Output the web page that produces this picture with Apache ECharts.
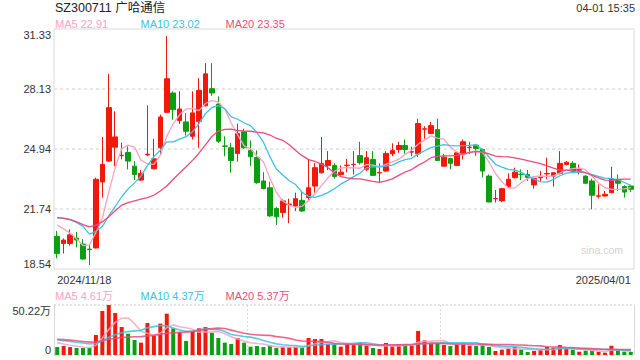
<!DOCTYPE html>
<html><head><meta charset="utf-8">
<script src="https://cdn.jsdelivr.net/npm/echarts@6/dist/echarts.min.js"></script>
<style>html,body{margin:0;padding:0;background:#fff}#c{width:640px;height:360px}</style>
</head><body><div id="c"></div>
<script>
const dates = ['2024/11/18','2024/11/19','2024/11/20','2024/11/21','2024/11/22','2024/11/25','2024/11/26','2024/11/27','2024/11/28','2024/11/29',
'2024/12/02','2024/12/03','2024/12/04','2024/12/05','2024/12/06','2024/12/09','2024/12/10','2024/12/11','2024/12/12','2024/12/13','2024/12/16','2024/12/17','2024/12/18','2024/12/19','2024/12/20','2024/12/23','2024/12/24','2024/12/25','2024/12/26','2024/12/27','2024/12/30','2024/12/31',
'2025/01/02','2025/01/03','2025/01/06','2025/01/07','2025/01/08','2025/01/09','2025/01/10','2025/01/13','2025/01/14','2025/01/15','2025/01/16','2025/01/17','2025/01/20','2025/01/21','2025/01/22','2025/01/23','2025/01/24','2025/01/27',
'2025/02/05','2025/02/06','2025/02/07','2025/02/10','2025/02/11','2025/02/12','2025/02/13','2025/02/14','2025/02/17','2025/02/18','2025/02/19','2025/02/20','2025/02/21','2025/02/24','2025/02/25','2025/02/26','2025/02/27','2025/02/28',
'2025/03/03','2025/03/04','2025/03/05','2025/03/06','2025/03/07','2025/03/10','2025/03/11','2025/03/12','2025/03/13','2025/03/14','2025/03/17','2025/03/18','2025/03/19','2025/03/20','2025/03/21','2025/03/24','2025/03/25','2025/03/26','2025/03/27','2025/03/28','2025/03/31',
'2025/04/01'];

const open = [20.28,19.90,19.90,20.19,19.87,19.60,19.66,23.18,24.29,25.03,
24.58,24.75,24.02,23.28,24.62,23.88,25.00,26.89,27.92,26.45,
26.38,25.61,26.41,27.24,28.15,27.33,25.10,25.00,24.70,25.85,
24.86,24.48,23.23,22.87,21.76,21.55,21.98,21.90,22.20,22.35,
22.96,23.67,24.06,24.06,23.57,24.05,24.10,24.59,23.85,24.38,
23.66,23.76,24.68,24.91,25.12,24.77,24.68,25.99,25.76,25.97,
24.02,24.43,24.06,24.68,25.01,25.14,24.91,23.49,22.28,22.17,
22.93,23.41,23.59,23.58,23.02,23.40,23.61,23.49,23.64,24.11,
24.17,23.81,23.49,23.23,22.42,22.43,22.61,23.28,22.93,22.96];
const close = [19.37,20.08,20.36,20.08,19.07,19.57,23.32,24.11,27.14,25.58,
24.60,24.29,23.58,23.64,24.66,24.41,26.64,28.68,27.03,27.07,
25.88,26.86,28.06,28.94,27.92,25.35,25.08,24.32,25.76,25.00,
24.52,23.14,22.82,21.37,21.32,22.17,22.00,22.29,21.63,22.87,
23.94,24.17,24.32,23.46,23.70,24.07,24.12,24.20,24.47,23.53,
23.68,24.70,24.86,25.12,24.91,24.79,26.29,26.01,26.18,24.32,
24.50,24.17,24.73,25.32,25.03,24.96,23.76,22.11,22.30,22.82,
23.32,23.70,23.57,23.41,23.37,23.42,23.63,23.67,24.17,24.23,
23.76,23.83,23.11,22.47,22.44,22.52,23.35,23.11,22.64,22.79];
const low = [19.11,19.37,19.78,19.69,19.04,18.75,19.64,22.34,24.25,24.02,
24.38,23.85,23.28,23.23,24.55,23.85,24.64,26.85,26.50,26.27,
25.65,25.44,25.00,27.20,27.77,25.26,24.55,23.67,24.26,24.95,
24.02,23.08,22.79,21.32,20.88,21.28,20.98,21.63,21.58,22.22,
22.61,23.63,23.81,23.36,23.51,23.70,23.58,24.11,23.76,23.50,
23.14,23.70,24.55,24.73,24.68,24.55,24.50,25.48,25.74,24.29,
24.00,23.85,24.02,24.38,24.68,24.57,23.41,22.09,22.08,22.11,
22.87,23.36,23.28,23.23,22.82,23.23,23.32,22.93,23.58,24.06,
23.70,23.58,23.10,21.72,22.29,22.40,22.58,22.70,22.35,22.64];
const high = [20.57,20.17,20.65,20.52,20.13,19.83,23.41,25.58,28.94,26.94,
25.27,25.07,24.29,23.82,27.26,25.48,26.77,30.96,28.01,28.01,
26.85,28.01,28.71,29.51,29.51,27.74,25.61,25.26,26.29,26.02,
25.39,24.86,23.70,23.19,21.85,22.26,22.29,22.61,22.70,24.41,
24.20,25.58,24.82,24.17,24.06,24.41,24.82,25.32,24.82,24.82,
24.17,24.82,25.24,25.32,25.44,25.05,26.55,26.15,26.38,26.55,
24.68,24.47,24.78,25.44,25.30,25.21,24.96,23.58,22.75,22.87,
23.64,23.94,23.85,23.82,23.41,23.76,24.47,23.70,24.82,24.29,
24.29,24.11,23.53,23.35,23.05,22.70,23.99,23.58,23.00,23.00];

const ma5 = [20.88,20.68,20.45,20.15,19.79,19.83,20.48,21.23,22.64,23.94,
24.95,25.14,25.04,24.34,24.15,24.12,24.59,25.61,26.28,26.77,
27.06,27.10,26.98,27.36,27.53,27.43,27.07,26.32,25.69,25.10,
24.94,24.55,24.25,23.37,22.63,22.16,21.94,21.83,21.88,22.19,
22.55,22.98,23.39,23.75,23.92,23.94,23.93,23.91,24.11,24.08,
24.00,24.12,24.25,24.38,24.65,24.88,25.19,25.42,25.64,25.52,
25.46,25.04,24.78,24.61,24.75,24.84,24.76,24.24,23.63,23.19,
22.86,22.85,23.14,23.36,23.47,23.49,23.48,23.50,23.65,23.82,
23.89,23.93,23.82,23.48,23.12,22.87,22.78,22.78,22.81,22.88];
const ma10 = [21.28,21.23,21.16,21.02,20.81,20.40,20.55,20.80,21.38,21.87,
22.39,22.81,23.13,23.49,24.05,24.53,24.87,25.32,25.31,25.46,
25.59,25.85,26.29,26.82,27.15,27.24,27.09,26.65,26.52,26.32,
26.18,25.81,25.29,24.53,23.87,23.55,23.24,23.04,22.63,22.41,
22.36,22.46,22.61,22.82,23.06,23.25,23.46,23.65,23.93,24.00,
23.97,24.03,24.08,24.25,24.37,24.44,24.66,24.84,25.01,25.09,
25.17,25.12,25.10,25.12,25.13,25.15,24.90,24.51,24.12,23.97,
23.85,23.81,23.69,23.50,23.33,23.18,23.17,23.32,23.51,23.65,
23.69,23.71,23.66,23.57,23.47,23.38,23.36,23.30,23.15,23.00];
const ma20 = [21.28,21.25,21.19,21.05,20.91,20.79,20.88,21.05,21.32,21.64,
21.94,22.08,22.17,22.26,22.34,22.47,22.70,22.96,23.32,23.66,
23.99,24.33,24.71,25.16,25.60,25.89,25.98,25.99,25.92,25.89,
25.88,25.83,25.79,25.68,25.51,25.40,25.16,24.85,24.58,24.37,
24.27,24.13,23.95,23.67,23.46,23.40,23.35,23.34,23.28,23.21,
23.16,23.24,23.34,23.53,23.71,23.84,24.06,24.24,24.47,24.54,
24.57,24.57,24.59,24.68,24.75,24.79,24.78,24.67,24.56,24.53,
24.51,24.46,24.40,24.31,24.23,24.16,24.03,23.91,23.81,23.81,
23.77,23.76,23.67,23.53,23.40,23.28,23.26,23.31,23.33,23.33];

// volume in 万
const volume = [8.0,9.0,8.0,7.0,7.0,7.0,20.1,44.2,50.22,42.2,
28.1,21.4,15.1,12.4,32.1,19.4,31.5,41.5,26.8,22.8,
14.1,24.1,26.8,28.1,22.4,17.1,12.4,11.0,17.1,12.4,
8.4,9.0,8.0,9.4,7.0,7.7,7.7,8.0,7.4,17.1,
16.1,16.1,11.0,11.0,8.4,11.0,11.0,12.4,9.4,7.0,
6.0,12.1,9.4,11.0,10.0,9.0,24.1,14.7,11.7,12.4,
10.0,9.0,11.0,11.7,9.4,9.0,10.0,8.0,4.0,5.4,
6.4,8.0,5.7,3.0,4.0,5.0,8.4,7.4,10.0,6.0,
5.3,3.3,4.3,4.5,3.3,2.3,9.3,5.2,3.3,3.2];
const vma5 = [12.4,11.0,9.8,8.8,7.80,7.60,9.82,17.06,25.70,32.74,
36.96,37.22,31.40,23.84,21.82,20.08,22.10,27.38,30.26,28.40,
27.34,25.86,22.92,23.18,23.10,23.70,21.36,18.20,16.00,14.00,
12.26,11.58,10.98,9.44,8.36,8.22,7.96,7.96,7.56,9.58,
11.26,12.94,13.54,14.26,12.52,11.50,10.48,10.76,10.44,10.16,
9.16,9.38,8.78,9.10,9.70,10.30,12.70,13.76,13.90,14.38,
14.58,11.56,10.82,10.82,10.22,10.02,10.22,9.62,8.08,7.28,
6.76,6.36,5.90,5.70,5.42,5.14,5.22,5.56,6.96,7.36,
7.42,6.40,5.78,4.68,4.14,3.54,4.74,4.92,4.68,4.66];
const vma10 = [15.0,14.3,13.6,12.8,12.0,11.0,11.5,14.0,17.8,20.27,
22.28,23.52,24.23,24.77,27.28,28.52,29.66,29.39,27.05,25.11,
23.71,23.98,25.15,26.72,25.75,25.52,23.61,20.56,19.59,18.55,
17.98,16.47,14.59,12.72,11.18,10.24,9.77,9.47,8.50,8.97,
9.74,10.45,10.75,10.91,11.05,11.38,11.71,12.15,12.35,11.34,
10.33,9.93,9.77,9.77,9.93,9.73,11.04,11.27,11.50,12.04,
12.44,12.13,12.29,12.36,12.30,12.30,10.89,10.22,9.45,8.75,
8.39,8.29,7.76,6.89,6.35,5.95,5.79,5.73,6.33,6.39,
6.28,5.81,5.67,5.82,5.75,5.48,5.57,5.35,4.68,4.40];
const vma20 = [15.8,15.4,14.9,14.3,13.6,12.9,13.2,14.3,15.8,16.8,
17.5,18.0,18.3,18.5,19.2,19.7,20.6,21.8,22.3,22.69,
23.00,23.75,24.69,25.75,26.52,27.02,26.64,24.98,23.32,21.83,
20.85,20.23,19.87,19.72,18.47,17.88,16.69,15.02,14.05,13.76,
13.86,13.46,12.67,11.82,11.12,10.81,10.74,10.81,10.43,10.16,
10.04,10.19,10.26,10.34,10.49,10.56,11.38,11.71,11.93,11.69,
11.39,11.03,11.03,11.07,11.12,11.02,10.97,10.75,10.48,10.40,
10.42,10.21,10.03,9.63,9.33,9.13,8.34,7.98,7.89,7.57,
7.34,7.05,6.72,6.36,6.05,5.72,5.68,5.54,5.51,5.40];

const priceTicks = [18.54, 21.74, 24.94, 28.13, 31.33];
const priceInner = [21.74, 24.94, 28.13];
const volTicks = [0, 50.22];

const titleText = 'SZ300711 广哈通信';
const timeText = '04-01 15:35';
const maLegend = ['MA5 22.91', 'MA10 23.02', 'MA20 23.35'];
const volLegend = ['MA5 4.61万', 'MA10 4.37万', 'MA20 5.37万'];

const UP = '#f2180c', DOWN = '#0c9e12';
const C5 = '#f7a3bf', C10 = '#3cc1e3', C20 = '#e94c7c';
const FONT = 'Arial, "Liberation Sans", "Noto Sans CJK SC", sans-serif';

const candleData = dates.map((d, i) => [open[i], close[i], low[i], high[i]]);
const volData = volume.map((v, i) => ({ value: v, itemStyle: { color: close[i] >= open[i] ? UP : DOWN } }));

function txt(text, x, y, color, size, align) {
  return { type: 'text', x: x, y: y, silent: true,
    style: { text: text, fill: color, font: size + 'px ' + FONT, align: align || 'left', verticalAlign: 'middle',
      textAlign: align || 'left', textVerticalAlign: 'middle' } };
}

const chart = echarts.init(document.getElementById('c'), null, { renderer: 'svg' });
const lineS = (name, data, color, xi, yi, w, op) => ({
  name: name, type: 'line', data: data, xAxisIndex: xi, yAxisIndex: yi, showSymbol: false, symbol: 'none',
  silent: true, smooth: false, z: 5, lineStyle: { color: color, width: w, opacity: op }, itemStyle: { color: color }
});

chart.setOption({
  animation: false,
  backgroundColor: '#fff',
  textStyle: { fontFamily: FONT },
  grid: [
    { left: 54, right: 6, top: 29, height: 240, show: true, borderColor: '#d9d9d9', borderWidth: 1,
      backgroundColor: 'transparent', outerBoundsMode: 'none' },
    { left: 54, right: 6, top: 305, height: 50, show: false, outerBoundsMode: 'none' }
  ],
  xAxis: [
    { type: 'category', gridIndex: 0, data: dates, boundaryGap: true,
      axisLine: { show: false }, axisTick: { show: false }, splitLine: { show: false },
      axisLabel: { interval: (i) => i === 0 || i === dates.length - 1, color: '#333', fontSize: 11, margin: 5,
        fontFamily: FONT, alignMinLabel: 'left', alignMaxLabel: 'right' } },
    { type: 'category', gridIndex: 1, data: dates, boundaryGap: true,
      axisLine: { show: false }, axisTick: { show: false }, axisLabel: { show: false },
      splitLine: { show: true, interval: (i) => i === 30 || i === 60, lineStyle: { color: '#d9d9d9', type: [2, 2], width: 1 } } }
  ],
  yAxis: [
    { type: 'value', gridIndex: 0, min: priceTicks[0], max: priceTicks[priceTicks.length - 1], scale: true,
      axisLine: { show: false }, axisTick: { show: false, customValues: priceInner },
      splitLine: { show: true, lineStyle: { color: '#e6e6e6', type: [3, 3], width: 2 } },
      axisLabel: { customValues: priceTicks, color: '#333', fontSize: 11, margin: 3, fontFamily: FONT,
        verticalAlignMinLabel: 'bottom', verticalAlignMaxLabel: 'top',
        formatter: (v) => v.toFixed(2) } },
    { type: 'value', gridIndex: 1, min: volTicks[0], max: volTicks[1],
      axisLine: { show: true, lineStyle: { color: '#d9d9d9' } }, axisTick: { show: false, customValues: volTicks },
      splitLine: { show: true, lineStyle: { color: '#d9d9d9', type: [2, 2], width: 1.5 } },
      axisLabel: { customValues: volTicks, color: '#333', fontSize: 11, margin: 3, fontFamily: FONT,
        verticalAlignMinLabel: 'bottom', verticalAlignMaxLabel: 'top',
        formatter: (v) => v < 1 ? '0' : v.toFixed(2) + '万' } },
    { type: 'value', gridIndex: 1, position: 'right', min: volTicks[0], max: volTicks[1],
      axisLine: { show: true, lineStyle: { color: '#d9d9d9' } }, axisTick: { show: false },
      axisLabel: { show: false }, splitLine: { show: false } }
  ],
  series: [
    { name: 'K', type: 'candlestick', xAxisIndex: 0, yAxisIndex: 0, data: candleData, barWidth: 5, silent: true,
      itemStyle: { color: UP, color0: DOWN, borderColor: UP, borderColor0: DOWN, borderWidth: 1 } },
    lineS('MA5', ma5, C5, 0, 0, 1.3, 1),
    lineS('MA10', ma10, C10, 0, 0, 1.3, 1),
    lineS('MA20', ma20, C20, 0, 0, 1.3, 1),
    { name: 'VOL', type: 'bar', xAxisIndex: 1, yAxisIndex: 1, data: volData, barWidth: 4, silent: true },
    lineS('VMA5', vma5, C5, 1, 1, 1.6, 0.85),
    lineS('VMA10', vma10, C10, 1, 1, 1.6, 0.85),
    lineS('VMA20', vma20, C20, 1, 1, 1.6, 0.85)
  ],
  graphic: [
    txt(titleText, 55, 7.5, '#222', 12.5),
    txt(timeText, 635, 7.5, '#333', 11, 'right'),
    txt(maLegend[0], 55, 23.5, C5, 11),
    txt(maLegend[1], 140.5, 23.5, C10, 11),
    txt(maLegend[2], 225.5, 23.5, C20, 11),
    txt(volLegend[0], 55, 296, C5, 11),
    txt(volLegend[1], 140.5, 296, C10, 11),
    txt(volLegend[2], 225.5, 296, C20, 11),
    txt('sina.com', 623, 249.5, '#d2d2d2', 10.5, 'right')
  ]
});
</script>
</body></html>
